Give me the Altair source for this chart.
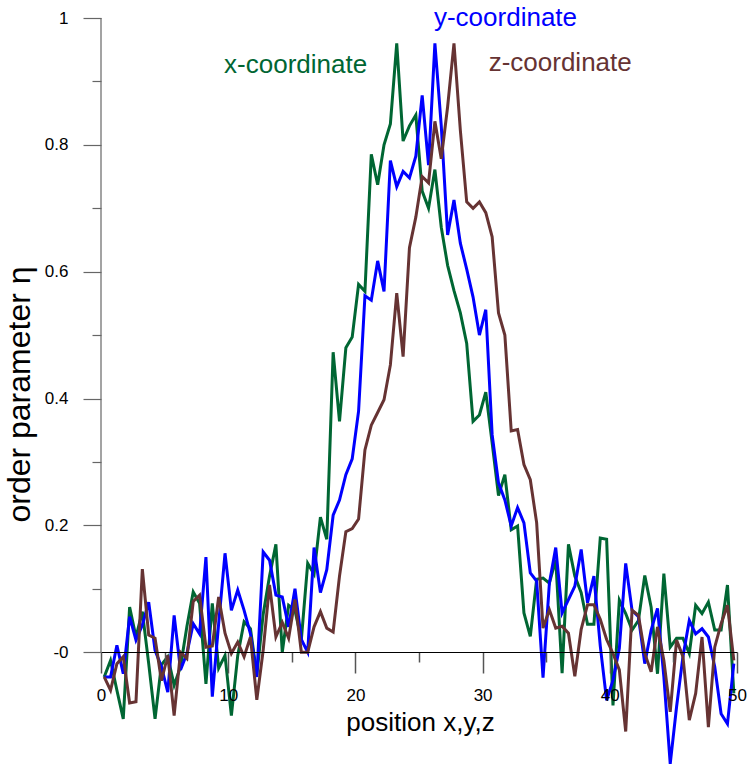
import altair as alt
import pandas as pd

# sampling positions along the coordinate (0.25, 0.75, ..., 49.75)
positions = [0.25 + 0.5 * i for i in range(100)]

x_coord = [
    -0.039, -0.013, -0.06, -0.105, 0.071, 0.024, 0.064, -0.018, -0.105, -0.02,
    -0.007, -0.052, -0.023, 0.04, 0.095, 0.077, -0.05, 0.077, -0.025, -0.005,
    -0.1, -0.005, 0.048, 0.037, -0.036, 0.06, 0.12, 0.17, 0.0, 0.074,
    0.066, 0.02, 0.14, 0.123, 0.213, 0.178, 0.473, 0.364, 0.48, 0.497,
    0.58, 0.569, 0.785, 0.737, 0.80, 0.833, 0.96, 0.806, 0.83, 0.847,
    0.727, 0.70, 0.761, 0.67, 0.61, 0.57, 0.535, 0.487, 0.364, 0.374,
    0.41, 0.33, 0.247, 0.28, 0.193, 0.199, 0.062, 0.025, 0.115, 0.117,
    0.109, 0.146, -0.033, 0.17, 0.12, 0.094, 0.044, 0.044, 0.18, 0.178,
    -0.084, 0.082, 0.061, 0.035, 0.05, 0.121, 0.071, -0.034, 0.124, 0.008,
    0.022, 0.022, -0.002, 0.074, 0.061, 0.079, 0.035, 0.035, 0.106, -0.065,
]

y_coord = [
    -0.039, -0.039, 0.011, -0.034, 0.056, 0.019, 0.043, 0.079, 0.003, -0.023,
    -0.063, 0.058, -0.028, -0.002, 0.045, 0.029, 0.15, -0.07, 0.045, 0.156,
    0.066, 0.098, 0.066, 0.029, -0.039, 0.158, 0.145, 0.09, 0.087, 0.04,
    0.1, 0.02, 0.0, 0.165, 0.094, 0.13, 0.216, 0.24, 0.28, 0.305,
    0.38, 0.562, 0.555, 0.617, 0.569, 0.775, 0.734, 0.758, 0.748, 0.782,
    0.878, 0.768, 0.96, 0.83, 0.658, 0.713, 0.645, 0.604, 0.56, 0.50,
    0.54, 0.343, 0.267, 0.24, 0.199, 0.228, 0.204, 0.125, 0.112, -0.04,
    0.109, 0.165, 0.062, 0.083, 0.104, 0.162, 0.078, 0.12, 0.01, -0.076,
    -0.044, 0.006, 0.14, 0.066, 0.056, -0.018, 0.035, 0.069, -0.039, -0.176,
    -0.086, -0.007, 0.05, 0.029, 0.037, 0.024, -0.023, -0.097, -0.113, -0.018,
]

z_coord = [
    -0.039, -0.06, -0.018, -0.007, -0.08, -0.078, 0.131, 0.027, 0.022, -0.045,
    -0.005, -0.1, 0.0, -0.01, 0.08, 0.09, 0.008, 0.01, 0.087, 0.03,
    -0.002, 0.016, -0.007, 0.024, -0.075, 0.003, 0.106, 0.024, 0.047, 0.022,
    0.083, 0.0, 0.0, 0.04, 0.064, 0.038, 0.032, 0.12, 0.19, 0.195,
    0.21, 0.319, 0.358, 0.378, 0.398, 0.453, 0.566, 0.466, 0.638, 0.686,
    0.75, 0.74, 0.837, 0.778, 0.86, 0.96, 0.823, 0.71, 0.70, 0.71,
    0.693, 0.655, 0.535, 0.50, 0.349, 0.351, 0.296, 0.272, 0.204, 0.038,
    0.067, 0.038, 0.041, 0.03, -0.038, 0.036, 0.075, 0.075, 0.052, 0.02,
    -0.002, -0.028, -0.125, 0.066, 0.058, -0.002, -0.031, 0.04, -0.013, -0.094,
    0.019, -0.007, -0.107, -0.065, 0.024, -0.118, 0.008, 0.045, 0.074, -0.013,
]

series_names = ["x-coordinate", "y-coordinate", "z-coordinate"]
series_colors = ["#006633", "#0000ff", "#663333"]

x_ticks = [0, 5, 10, 15, 20, 25, 30, 35, 40, 45, 50]
y_ticks = [0.0, 0.1, 0.2, 0.3, 0.4, 0.5, 0.6, 0.7, 0.8, 0.9, 1.0]

rows = []
for name, vals in zip(series_names, [x_coord, y_coord, z_coord]):
    for p, v in zip(positions, vals):
        rows.append({"position": p, "eta": v, "series": name})
df = pd.DataFrame(rows)

FONT = "Liberation Sans"
W, H = 636, 749

xscale = alt.Scale(domain=[0, 50], nice=False, zero=False)
yscale = alt.Scale(domain=[-0.181, 1], nice=False, zero=False)

x_axis = alt.Axis(
    values=x_ticks,
    offset=-115,
    grid=False,
    domain=True,
    domainColor="black",
    domainWidth=1.2,
    tickColor="#555555",
    tickWidth=1.5,
    tickSize={"condition": {"test": "datum.value % 10 == 0", "value": 21}, "value": 10},
    labelExpr="datum.value % 10 == 0 ? datum.label : ''",
    labelFont=FONT,
    labelFontSize=17,
    labelColor="black",
    labelPadding=14,
    labelFlush=False,
    labelOverlap=False,
    title="position x,y,z",
    titleFont=FONT,
    titleFontSize=26,
    titleFontWeight="normal",
    titleColor="black",
    titleX=319,
    titleY=70,
    titleBaseline="middle",
    titleAnchor="middle",
    zindex=1,
)

y_axis = alt.Axis(
    values=y_ticks,
    grid=False,
    domain=False,
    tickColor="#666666",
    tickWidth=1.2,
    tickSize={"condition": {"test": "round(datum.value * 10) % 2 == 0", "value": 18}, "value": 9},
    labelExpr="round(datum.value * 10) % 2 == 0 ? (datum.value == 0 ? '-0' : format(datum.value, '.1~f')) : ''",
    labelFont=FONT,
    labelFontSize=17,
    labelColor="black",
    labelPadding=15,
    labelOverlap=False,
    labelFlush=False,
    title="order parameter \u03b7",
    titleFont=FONT,
    titleFontSize=32,
    titleFontWeight="normal",
    titleColor="black",
    titleAngle=270,
    titleX=-82,
    titleY=376,
    titleAlign="center",
    titleBaseline="middle",
    zindex=1,
)

lines = alt.Chart(df).mark_line(strokeWidth=3, strokeJoin="miter").encode(
    x=alt.X("position:Q", scale=xscale, axis=x_axis),
    y=alt.Y("eta:Q", scale=yscale, axis=y_axis),
    color=alt.Color("series:N", scale=alt.Scale(domain=series_names, range=series_colors), legend=None),
    detail="series:N",
    order="position:Q",
)

y_domain_line = alt.Chart(pd.DataFrame({"a": [0]})).mark_rule(color="#666666", strokeWidth=1.2).encode(
    x=alt.datum(0, scale=xscale),
    y=alt.datum(0, scale=yscale),
    y2=alt.datum(1),
)

def series_label(name, color, xv, yv):
    return alt.Chart(pd.DataFrame({"t": [name]})).mark_text(
        font=FONT, fontSize=26, color=color, align="center", baseline="middle"
    ).encode(x=alt.datum(xv), y=alt.datum(yv), text="t:N")

chart = alt.layer(
    y_domain_line,
    lines,
    series_label(series_names[0], series_colors[0], 15.3, 0.926),
    series_label(series_names[1], series_colors[1], 31.8, 1.0),
    series_label(series_names[2], series_colors[2], 36.1, 0.929),
).properties(
    width=W,
    height=H,
    autosize=alt.AutoSizeParams(type="none"),
    padding={"left": 101, "top": 18, "right": 10, "bottom": 0},
    background="white",
).configure_view(stroke=None)

chart.save("out.html", embed_options={"renderer": "svg", "actions": False})
